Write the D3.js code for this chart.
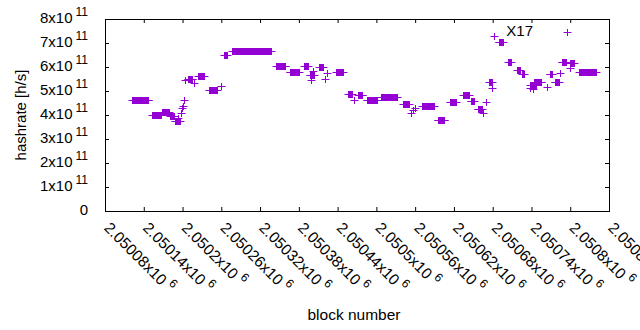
<html>
<head>
<script src="https://d3js.org/d3.v7.min.js"></script>
<style>
  body { margin: 0; background: white; }
  svg text { font-family: "Liberation Sans", Arial, sans-serif; fill: black; }
</style>
</head>
<body>
<svg width="640" height="330"></svg>
<script>
// runs of blocks with a constant estimated hashrate
var runStart = [2050122, 2050153, 2050168, 2050181, 2050188, 2050208, 2050224, 2050241, 2050264, 2050277,
                2050345, 2050366, 2050388, 2050397, 2050411, 2050438, 2050456, 2050472, 2050485, 2050507,
                2050541, 2050571, 2050595, 2050614, 2050634, 2050646, 2050657, 2050675, 2050689, 2050704,
                2050718, 2050726, 2050738, 2050744, 2050768, 2050776, 2050787, 2050800, 2050814];
var runEnd   = [2050147, 2050167, 2050179, 2050187, 2050196, 2050215, 2050233, 2050253, 2050269, 2050337,
                2050359, 2050380, 2050394, 2050403, 2050417, 2050448, 2050462, 2050478, 2050501, 2050532,
                2050550, 2050589, 2050605, 2050623, 2050643, 2050651, 2050663, 2050679, 2050696, 2050708,
                2050722, 2050728, 2050747, 2050755, 2050772, 2050782, 2050793, 2050806, 2050840];
var runRate  = [4.62e11, 4.0e11, 4.12e11, 3.96e11, 3.75e11, 5.5e11, 5.62e11, 5.04e11, 6.5e11, 6.67e11,
                6.04e11, 5.79e11, 6.04e11, 5.67e11, 6.0e11, 5.79e11, 4.88e11, 4.83e11, 4.62e11, 4.75e11,
                4.46e11, 4.38e11, 3.79e11, 4.54e11, 4.83e11, 4.58e11, 4.25e11, 5.38e11, 7.04e11, 6.21e11,
                5.88e11, 5.71e11, 5.25e11, 5.38e11, 5.71e11, 5.38e11, 6.21e11, 6.17e11, 5.79e11];

// single blocks off the runs
var loneBlock = [2050193, 2050198, 2050199, 2050201, 2050202, 2050204, 2050218, 2050260, 2050399, 2050402,
                 2050420, 2050424, 2050465, 2050554, 2050557, 2050560, 2050665, 2050670, 2050679, 2050682,
                 2050738, 2050742, 2050764, 2050784, 2050800];
var loneRate  = [3.88e11, 4.08e11, 4.29e11, 4.38e11, 4.62e11, 5.46e11, 5.33e11, 5.21e11, 5.46e11, 5.83e11,
                 5.5e11, 5.75e11, 4.62e11, 4.08e11, 4.21e11, 4.29e11, 4.08e11, 4.54e11, 5.12e11, 7.29e11,
                 5.12e11, 5.08e11, 5.17e11, 5.75e11, 5.96e11];

var xTicks = d3.range(2050080, 2050861, 60);
var yTicks = d3.range(0, 8.01e11, 1e11);
var seriesName = "X17";

function draw() {
  var pl = 105, pr = 609, pt = 19, pb = 211;
  var color = "#9400d3";

  var x = d3.scaleLinear().domain([2050080, 2050860]).range([pl, pr]);
  var y = d3.scaleLinear().domain([0, 8e11]).range([pb, pt]);

  var svg = d3.select("svg");

  var points = [];
  runStart.forEach(function (s, i) {
    for (var b = s; b <= runEnd[i]; b++) points.push({ b: b, h: runRate[i] });
  });
  loneBlock.forEach(function (b, i) { points.push({ b: b, h: loneRate[i] }); });

  function plus(g, cx, cy) {
    cx = Math.round(cx) + 0.5;
    cy = Math.round(cy) + 0.5;
    g.append("path")
      .attr("d", "M" + (cx - 4) + "," + cy + "H" + (cx + 4) + "M" + cx + "," + (cy - 3.5) + "V" + (cy + 3.5))
      .attr("stroke", color)
      .attr("stroke-width", 1)
      .attr("fill", "none");
  }

  var pts = svg.append("g");
  points.forEach(function (d) { plus(pts, x(d.b), y(d.h)); });

  // axes: inward ticks on all four sides
  svg.append("g").attr("transform", "translate(0," + pb + ")")
    .call(d3.axisBottom(x).tickValues(xTicks).tickSize(-4).tickFormat(""));
  svg.append("g").attr("transform", "translate(0," + pt + ")")
    .call(d3.axisTop(x).tickValues(xTicks).tickSize(-4).tickFormat(""));
  svg.append("g").attr("transform", "translate(" + pl + ",0)")
    .call(d3.axisLeft(y).tickValues(yTicks).tickSize(-4).tickFormat(""));
  svg.append("g").attr("transform", "translate(" + pr + ",0)")
    .call(d3.axisRight(y).tickValues(yTicks).tickSize(-4).tickFormat(""));
  svg.selectAll(".domain").remove();
  svg.selectAll(".tick line").attr("stroke", "black");

  svg.append("rect")
    .attr("x", pl + 0.5).attr("y", pt + 0.5)
    .attr("width", pr - pl).attr("height", pb - pt)
    .attr("fill", "none").attr("stroke", "black").attr("stroke-width", 1);

  // y tick labels
  var mant = d3.format(".6~g");
  yTicks.forEach(function (v) {
    var t = svg.append("text")
      .attr("x", 88).attr("y", y(v))
      .attr("text-anchor", "end")
      .attr("dominant-baseline", "middle")
      .style("font-size", "15px");
    if (v === 0) { t.text("0"); return; }
    t.append("tspan").text(mant(v / 1e11) + "x10");
    t.append("tspan").attr("dx", 3).attr("dy", -6).style("font-size", "12px").text("11");
  });

  // x tick labels, rotated
  xTicks.forEach(function (v) {
    var t = svg.append("text")
      .attr("transform", "translate(" + (x(v) + 1) + "," + (pb + 15) + ") rotate(45)")
      .attr("text-anchor", "start")
      .attr("dominant-baseline", "middle")
      .style("font-size", "15.5px");
    t.append("tspan").text(mant(v / 1e6) + "x10");
    t.append("tspan").attr("dx", 4).attr("dy", -6).style("font-size", "12px").text("6");
  });

  svg.append("text")
    .attr("transform", "translate(22," + (pt + pb) / 2 + ") rotate(-90)")
    .attr("text-anchor", "middle")
    .attr("dominant-baseline", "middle")
    .style("font-size", "15px")
    .text("hashrate [h/s]");

  svg.append("text")
    .attr("x", 354).attr("y", 316)
    .attr("text-anchor", "middle")
    .attr("dominant-baseline", "middle")
    .style("font-size", "15.5px")
    .text("block number");

  // key
  svg.append("text")
    .attr("x", 533).attr("y", 32)
    .attr("text-anchor", "end")
    .attr("dominant-baseline", "middle")
    .style("font-size", "15px")
    .text(seriesName);
  plus(svg.append("g"), 567, 32);
}
draw();
</script>
</body>
</html>
